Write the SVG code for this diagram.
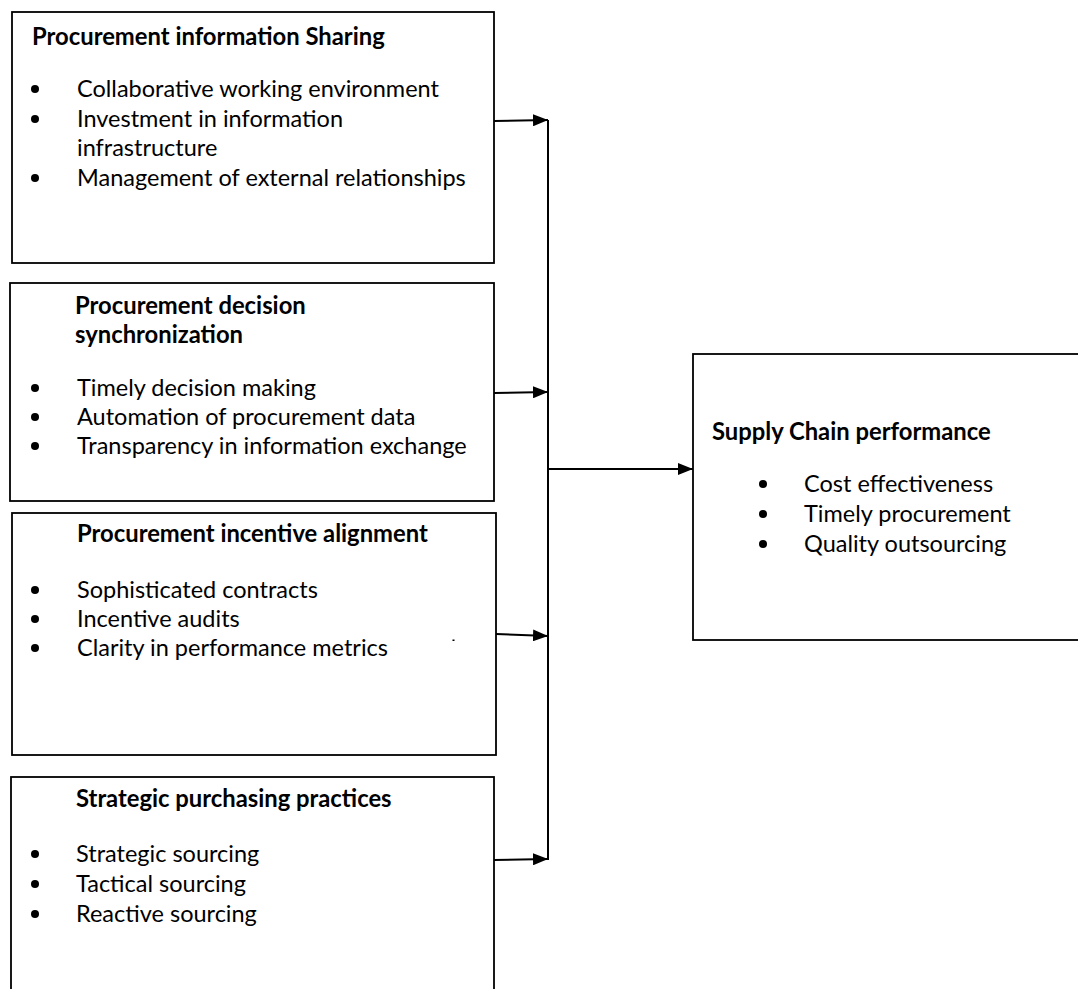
<svg xmlns="http://www.w3.org/2000/svg" width="1078" height="989" viewBox="0 0 1078 989">
<defs>
<style>
.box{fill:#fff;stroke:#000;stroke-width:1.8}
.t{font-family:Lato,"Liberation Sans",sans-serif;font-size:23.5px;fill:#000}
.b{font-weight:bold;font-size:23.8px}
.dot{fill:#000}
.con{stroke:#000;stroke-width:2;fill:none}
</style>
<marker id="ah" markerUnits="userSpaceOnUse" markerWidth="16" markerHeight="12" refX="15" refY="6" orient="auto" viewBox="0 0 16 12">
<path d="M0,0 L15,6 L0,12 z" fill="#000"/>
</marker>
</defs>
<rect width="1078" height="989" fill="#fff"/>
<g id="node-sharing">
<rect class="box" x="12" y="12" width="482" height="251"/>
<text class="t b" x="32" y="45">Procurement information Sharing</text>
<circle class="dot" cx="35" cy="89" r="4"/>
<text class="t" x="77" y="97">Collaborative working environment</text>
<circle class="dot" cx="35" cy="119" r="4"/>
<text class="t" x="77" y="127">Investment in information</text>
<text class="t" x="77" y="156">infrastructure</text>
<circle class="dot" cx="35" cy="178" r="4"/>
<text class="t" x="77" y="186">Management of external relationships</text>
</g>
<g id="node-decision">
<rect class="box" x="10" y="283" width="484" height="218"/>
<text class="t b" x="75" y="314">Procurement decision</text>
<text class="t b" x="75" y="343">synchronization</text>
<circle class="dot" cx="35" cy="388" r="4"/>
<text class="t" x="77" y="396">Timely decision making</text>
<circle class="dot" cx="35" cy="417" r="4"/>
<text class="t" x="77" y="425">Automation of procurement data</text>
<circle class="dot" cx="35" cy="446" r="4"/>
<text class="t" x="77" y="454">Transparency in information exchange</text>
</g>
<g id="node-incentive">
<rect class="box" x="12" y="513" width="484" height="242"/>
<text class="t b" x="77" y="542">Procurement incentive alignment</text>
<circle class="dot" cx="35" cy="590" r="4"/>
<text class="t" x="77" y="598">Sophisticated contracts</text>
<circle class="dot" cx="35" cy="619" r="4"/>
<text class="t" x="77" y="627">Incentive audits</text>
<circle class="dot" cx="35" cy="648" r="4"/>
<text class="t" x="77" y="656">Clarity in performance metrics</text>
<rect x="452.5" y="639.5" width="2" height="1.5" fill="#000"/>
</g>
<g id="node-strategic">
<rect class="box" x="11" y="777" width="483" height="230"/>
<text class="t b" x="76" y="807">Strategic purchasing practices</text>
<circle class="dot" cx="35" cy="854" r="4"/>
<text class="t" x="76" y="862">Strategic sourcing</text>
<circle class="dot" cx="35" cy="884" r="4"/>
<text class="t" x="76" y="892">Tactical sourcing</text>
<circle class="dot" cx="35" cy="914" r="4"/>
<text class="t" x="76" y="922">Reactive sourcing</text>
</g>
<g id="node-performance">
<rect class="box" x="693" y="354" width="400" height="286"/>
<text class="t b" x="712" y="440">Supply Chain performance</text>
<circle class="dot" cx="763" cy="484" r="4"/>
<text class="t" x="804" y="492">Cost effectiveness</text>
<circle class="dot" cx="763" cy="514" r="4"/>
<text class="t" x="804" y="522">Timely procurement</text>
<circle class="dot" cx="763" cy="544" r="4"/>
<text class="t" x="804" y="552">Quality outsourcing</text>
</g>
<g id="connectors">
<line class="con" x1="494" y1="121" x2="548" y2="120" marker-end="url(#ah)"/>
<line class="con" x1="494" y1="393" x2="548" y2="392" marker-end="url(#ah)"/>
<line class="con" x1="496" y1="634" x2="548" y2="636" marker-end="url(#ah)"/>
<line class="con" x1="494" y1="860" x2="548" y2="859" marker-end="url(#ah)"/>
<line class="con" x1="548" y1="120" x2="548" y2="860"/>
<line class="con" x1="548" y1="469" x2="693" y2="469" marker-end="url(#ah)"/>
</g>
</svg>
